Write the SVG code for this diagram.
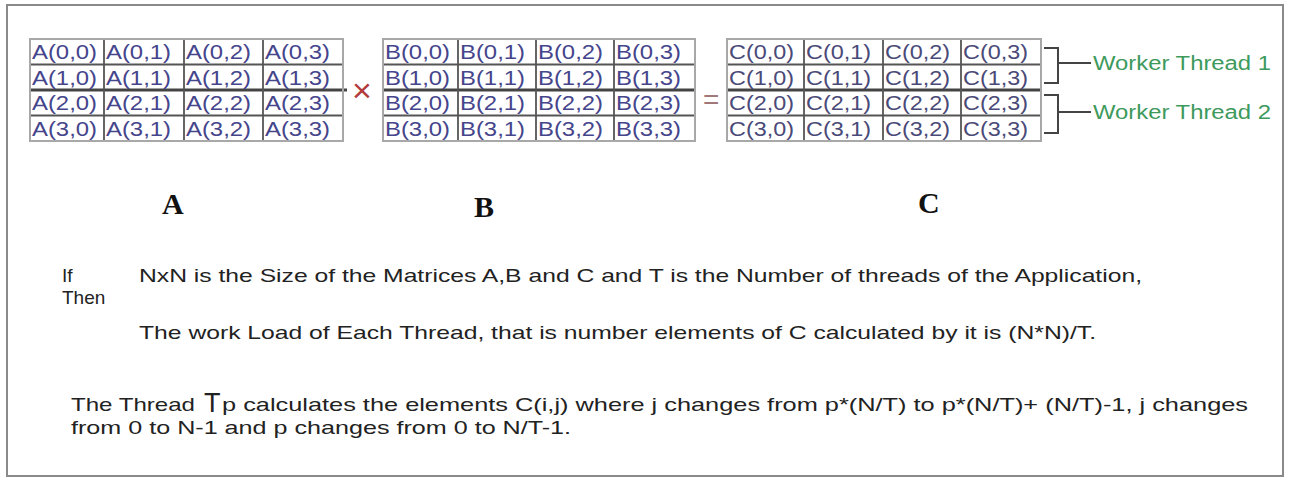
<svg xmlns="http://www.w3.org/2000/svg" width="1291" height="482" viewBox="0 0 1291 482">
<style>
.frame{fill:#fff;stroke:#8a8a8a;stroke-width:2}
.outer{fill:none;stroke:#a8a8a8;stroke-width:2}
.inner{stroke:#555;stroke-width:1.8}
.mid{stroke:#444;stroke-width:3}
.cell{font-family:"Liberation Sans",Arial,sans-serif;font-size:21px;fill:#45458c}
.cc{fill:#4a4a78}
.lbl{font-family:"Liberation Serif","Times New Roman",serif;font-size:30px;font-weight:bold;fill:#111}
.op{font-family:"Liberation Sans",Arial,sans-serif}
.wt{font-family:"Liberation Sans",Arial,sans-serif;font-size:20px;fill:#3d9a5c}
.br{fill:none;stroke:#444;stroke-width:2}
.para{font-family:"Liberation Sans",Arial,sans-serif;font-size:19px;fill:#222}
</style>
<rect class="frame" x="7" y="5" width="1276" height="471"/>

<g id="matrixA">
<line class="inner" x1="30" y1="64.5" x2="343" y2="64.5"/>
<line class="mid" x1="30" y1="90" x2="347" y2="90"/>
<line class="inner" x1="30" y1="115.5" x2="343" y2="115.5"/>
<line class="inner" x1="104" y1="39" x2="104" y2="141"/>
<line class="inner" x1="184" y1="39" x2="184" y2="141"/>
<line class="inner" x1="263" y1="39" x2="263" y2="141"/>
<rect class="outer" x="30" y="39" width="313" height="102"/>
<g class="cell">
<text x="32" y="59" textLength="65" lengthAdjust="spacingAndGlyphs">A(0,0)</text>
<text x="106" y="59" textLength="65" lengthAdjust="spacingAndGlyphs">A(0,1)</text>
<text x="186" y="59" textLength="65" lengthAdjust="spacingAndGlyphs">A(0,2)</text>
<text x="265" y="59" textLength="65" lengthAdjust="spacingAndGlyphs">A(0,3)</text>
<text x="32" y="84.5" textLength="65" lengthAdjust="spacingAndGlyphs">A(1,0)</text>
<text x="106" y="84.5" textLength="65" lengthAdjust="spacingAndGlyphs">A(1,1)</text>
<text x="186" y="84.5" textLength="65" lengthAdjust="spacingAndGlyphs">A(1,2)</text>
<text x="265" y="84.5" textLength="65" lengthAdjust="spacingAndGlyphs">A(1,3)</text>
<text x="32" y="110" textLength="65" lengthAdjust="spacingAndGlyphs">A(2,0)</text>
<text x="106" y="110" textLength="65" lengthAdjust="spacingAndGlyphs">A(2,1)</text>
<text x="186" y="110" textLength="65" lengthAdjust="spacingAndGlyphs">A(2,2)</text>
<text x="265" y="110" textLength="65" lengthAdjust="spacingAndGlyphs">A(2,3)</text>
<text x="32" y="135.5" textLength="65" lengthAdjust="spacingAndGlyphs">A(3,0)</text>
<text x="106" y="135.5" textLength="65" lengthAdjust="spacingAndGlyphs">A(3,1)</text>
<text x="186" y="135.5" textLength="65" lengthAdjust="spacingAndGlyphs">A(3,2)</text>
<text x="265" y="135.5" textLength="65" lengthAdjust="spacingAndGlyphs">A(3,3)</text>
</g>
</g>

<text id="times" class="op" x="352" y="102" font-size="34" fill="#b23a3a">×</text>

<g id="matrixB">
<line class="inner" x1="383" y1="64.5" x2="695" y2="64.5"/>
<line class="mid" x1="383" y1="90" x2="695" y2="90"/>
<line class="inner" x1="383" y1="115.5" x2="695" y2="115.5"/>
<line class="inner" x1="458" y1="39" x2="458" y2="141"/>
<line class="inner" x1="536" y1="39" x2="536" y2="141"/>
<line class="inner" x1="614" y1="39" x2="614" y2="141"/>
<rect class="outer" x="383" y="39" width="312" height="102"/>
<g class="cell">
<text x="385" y="59" textLength="65" lengthAdjust="spacingAndGlyphs">B(0,0)</text>
<text x="460" y="59" textLength="65" lengthAdjust="spacingAndGlyphs">B(0,1)</text>
<text x="538" y="59" textLength="65" lengthAdjust="spacingAndGlyphs">B(0,2)</text>
<text x="616" y="59" textLength="65" lengthAdjust="spacingAndGlyphs">B(0,3)</text>
<text x="385" y="84.5" textLength="65" lengthAdjust="spacingAndGlyphs">B(1,0)</text>
<text x="460" y="84.5" textLength="65" lengthAdjust="spacingAndGlyphs">B(1,1)</text>
<text x="538" y="84.5" textLength="65" lengthAdjust="spacingAndGlyphs">B(1,2)</text>
<text x="616" y="84.5" textLength="65" lengthAdjust="spacingAndGlyphs">B(1,3)</text>
<text x="385" y="110" textLength="65" lengthAdjust="spacingAndGlyphs">B(2,0)</text>
<text x="460" y="110" textLength="65" lengthAdjust="spacingAndGlyphs">B(2,1)</text>
<text x="538" y="110" textLength="65" lengthAdjust="spacingAndGlyphs">B(2,2)</text>
<text x="616" y="110" textLength="65" lengthAdjust="spacingAndGlyphs">B(2,3)</text>
<text x="385" y="135.5" textLength="65" lengthAdjust="spacingAndGlyphs">B(3,0)</text>
<text x="460" y="135.5" textLength="65" lengthAdjust="spacingAndGlyphs">B(3,1)</text>
<text x="538" y="135.5" textLength="65" lengthAdjust="spacingAndGlyphs">B(3,2)</text>
<text x="616" y="135.5" textLength="65" lengthAdjust="spacingAndGlyphs">B(3,3)</text>
</g>
</g>

<text id="equals" class="op" x="703" y="109" font-size="28" fill="#a07878">=</text>

<g id="matrixC">
<line class="inner" x1="727" y1="64.5" x2="1041" y2="64.5"/>
<line class="mid" x1="727" y1="90" x2="1041" y2="90"/>
<line class="inner" x1="727" y1="115.5" x2="1041" y2="115.5"/>
<line class="inner" x1="804" y1="39" x2="804" y2="141"/>
<line class="inner" x1="883" y1="39" x2="883" y2="141"/>
<line class="inner" x1="961" y1="39" x2="961" y2="141"/>
<rect class="outer" x="727" y="39" width="314" height="102"/>
<g class="cell cc">
<text x="729" y="59" textLength="65" lengthAdjust="spacingAndGlyphs">C(0,0)</text>
<text x="806" y="59" textLength="65" lengthAdjust="spacingAndGlyphs">C(0,1)</text>
<text x="885" y="59" textLength="65" lengthAdjust="spacingAndGlyphs">C(0,2)</text>
<text x="963" y="59" textLength="65" lengthAdjust="spacingAndGlyphs">C(0,3)</text>
<text x="729" y="84.5" textLength="65" lengthAdjust="spacingAndGlyphs">C(1,0)</text>
<text x="806" y="84.5" textLength="65" lengthAdjust="spacingAndGlyphs">C(1,1)</text>
<text x="885" y="84.5" textLength="65" lengthAdjust="spacingAndGlyphs">C(1,2)</text>
<text x="963" y="84.5" textLength="65" lengthAdjust="spacingAndGlyphs">C(1,3)</text>
<text x="729" y="110" textLength="65" lengthAdjust="spacingAndGlyphs">C(2,0)</text>
<text x="806" y="110" textLength="65" lengthAdjust="spacingAndGlyphs">C(2,1)</text>
<text x="885" y="110" textLength="65" lengthAdjust="spacingAndGlyphs">C(2,2)</text>
<text x="963" y="110" textLength="65" lengthAdjust="spacingAndGlyphs">C(2,3)</text>
<text x="729" y="135.5" textLength="65" lengthAdjust="spacingAndGlyphs">C(3,0)</text>
<text x="806" y="135.5" textLength="65" lengthAdjust="spacingAndGlyphs">C(3,1)</text>
<text x="885" y="135.5" textLength="65" lengthAdjust="spacingAndGlyphs">C(3,2)</text>
<text x="963" y="135.5" textLength="65" lengthAdjust="spacingAndGlyphs">C(3,3)</text>
</g>
</g>

<g id="connectors">
<path class="br" d="M1044,48 H1058 V83 H1044"/>
<path class="br" d="M1058,63 H1091"/>
<path class="br" d="M1044,95 H1058 V133 H1044"/>
<path class="br" d="M1058,112 H1091"/>
</g>

<g id="worker1"><text class="wt" x="1093" y="70" textLength="178" lengthAdjust="spacingAndGlyphs">Worker Thread 1</text></g>
<g id="worker2"><text class="wt" x="1093" y="119" textLength="178" lengthAdjust="spacingAndGlyphs">Worker Thread 2</text></g>

<text class="lbl" x="162" y="214">A</text>
<text class="lbl" x="474" y="217">B</text>
<text class="lbl" x="918" y="213">C</text>

<g id="text" class="para">
<text x="62" y="282">If</text>
<text x="139" y="282" textLength="1003" lengthAdjust="spacingAndGlyphs">NxN is the Size of the Matrices A,B and C and T is the Number of threads of the Application,</text>
<text x="62" y="304">Then</text>
<text x="139" y="339" textLength="957" lengthAdjust="spacingAndGlyphs">The work Load of Each Thread, that is number elements of C calculated by it is (N*N)/T.</text>
<text x="71" y="411" textLength="124" lengthAdjust="spacingAndGlyphs">The Thread</text>
<text x="204" y="412" font-size="27">T</text>
<text x="222" y="411" textLength="1026" lengthAdjust="spacingAndGlyphs">p calculates the elements C(i,j) where j changes from p*(N/T) to p*(N/T)+  (N/T)-1, j changes</text>
<text x="71" y="434" textLength="500" lengthAdjust="spacingAndGlyphs">from 0 to N-1 and p changes from 0 to N/T-1.</text>
</g>
</svg>
